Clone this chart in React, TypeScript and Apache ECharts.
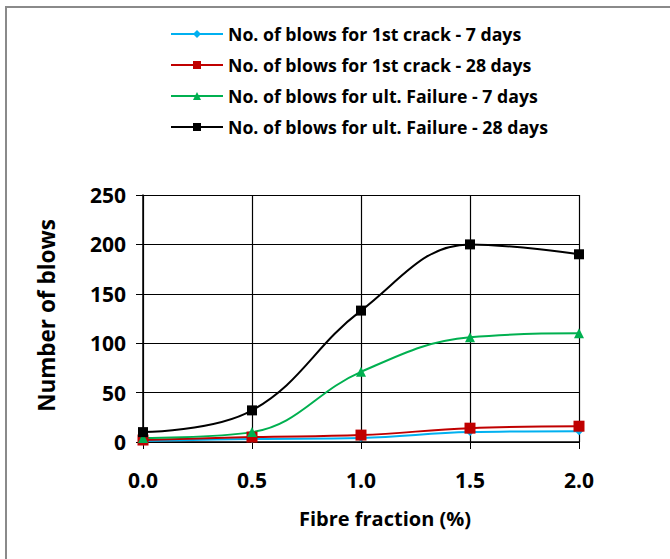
import React, { useEffect, useRef } from "react";
import * as echarts from "echarts";

const fibreFraction = [0.0, 0.5, 1.0, 1.5, 2.0];
const crack7 = [1, 3, 4, 10, 11];
const crack28 = [2, 5, 7, 14, 16];
const ult7 = [4, 10, 71, 106, 110];
const ult28 = [10, 32, 133, 200, 190];
const seriesNames = [
  "No. of blows for 1st crack - 7 days",
  "No. of blows for 1st crack - 28 days",
  "No. of blows for ult. Failure - 7 days",
  "No. of blows for ult. Failure - 28 days",
];
const xTicks = [0, 0.5, 1.0, 1.5, 2.0];
const yTicks = [0, 50, 100, 150, 200, 250];

const FONT = "'Open Sans', 'Noto Sans', sans-serif";

export default function App() {
  const ref = useRef<HTMLDivElement>(null);
  useEffect(() => {
    if (!ref.current) return;
    const chart = echarts.init(ref.current, null, { renderer: "svg" });
    const pair = (ys: number[]) => fibreFraction.map((x, i) => [x, ys[i]]);
    const mk = (name: string, ys: number[], color: string, symbol: string, size: number) => ({
      name,
      type: "line",
      data: pair(ys),
      smooth: 0.4,
      symbol,
      symbolSize: size,
      itemStyle: { color },
      lineStyle: { color, width: 2 },
    });
    chart.setOption({
      animation: false,
      textStyle: { fontFamily: FONT },
      graphic: [
        {
          type: "polyline",
          shape: { points: [[6, 600], [6, 7], [700, 7]] },
          style: { stroke: "#8a8a8a", lineWidth: 2, fill: "none" },
        },
      ],
      legend: {
        orient: "vertical",
        left: 165,
        top: 20,
        itemWidth: 52,
        itemHeight: 10,
        itemGap: 13,
        textStyle: { fontFamily: FONT, fontWeight: "bold", fontSize: 17.7, color: "#000" },
        data: seriesNames,
      },
      grid: { left: 143, top: 195, right: 91, bottom: 117 },
      xAxis: {
        type: "value",
        min: xTicks[0],
        max: xTicks[xTicks.length - 1],
        interval: 0.5,
        name: "Fibre fraction (%)",
        nameLocation: "middle",
        nameGap: 66,
        nameTextStyle: {
          fontFamily: FONT,
          fontWeight: "bold",
          fontSize: 20,
          color: "#000",
          padding: [0, 0, 0, 48],
        },
        axisLine: { lineStyle: { color: "#000", width: 1.5 } },
        axisTick: { show: true, inside: false, length: 7, lineStyle: { color: "#000" } },
        axisLabel: {
          margin: 27,
          fontFamily: FONT,
          fontWeight: "bold",
          fontSize: 21,
          color: "#000",
          formatter: (v: number) => v.toFixed(1),
        },
        splitLine: { show: true, lineStyle: { color: "#000", width: 1.2 } },
      },
      yAxis: {
        type: "value",
        min: yTicks[0],
        max: yTicks[yTicks.length - 1],
        interval: 50,
        name: "Number of blows",
        nameLocation: "middle",
        nameGap: 85,
        nameTextStyle: {
          fontFamily: FONT,
          fontWeight: "bold",
          fontSize: 22.5,
          color: "#000",
          padding: [0, 0, 0, 6],
        },
        axisLine: { show: true, lineStyle: { color: "#000", width: 1.5 } },
        axisTick: { show: true, inside: false, length: 7, lineStyle: { color: "#000" } },
        axisLabel: { margin: 17, fontFamily: FONT, fontWeight: "bold", fontSize: 21, color: "#000" },
        splitLine: { show: true, lineStyle: { color: "#000", width: 1.2 } },
      },
      series: [
        mk(seriesNames[0], crack7, "#00B0F0", "diamond", 8),
        mk(seriesNames[1], crack28, "#C00000", "rect", 11),
        mk(seriesNames[2], ult7, "#00B050", "triangle", 10),
        mk(seriesNames[3], ult28, "#000000", "rect", 10),
      ],
    });
    return () => chart.dispose();
  }, []);
  return (
    <div
      ref={ref}
      style={{ position: "fixed", left: 0, top: 0, width: 670, height: 559, background: "#fff" }}
    />
  );
}
